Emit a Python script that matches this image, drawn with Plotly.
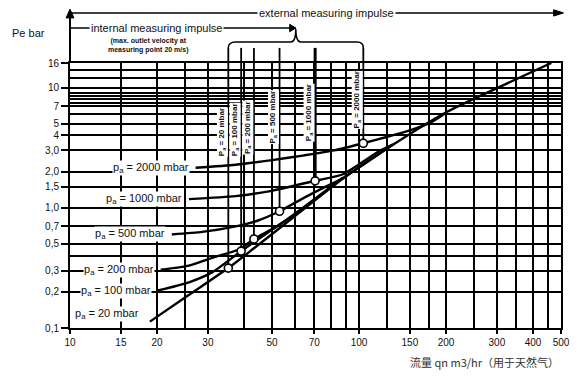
import numpy as np
import plotly.graph_objects as go

# ---------------- data ----------------
q_pa20 = [18.9, 25.6, 35.3, 43.3, 61.4, 88, 131, 201, 295, 463]
p_pa20 = [0.113, 0.186, 0.315, 0.46, 0.89, 1.75, 3.34, 6.26, 9.7, 16]

q_pa100 = [20.1, 25.8, 31.0, 39.1, 48.7, 61.4, 88]
p_pa100 = [0.205, 0.24, 0.29, 0.436, 0.63, 0.92, 1.77]

q_pa200 = [20.6, 25.8, 31.8, 38.4, 43.3, 52, 61.4, 88]
p_pa200 = [0.305, 0.33, 0.39, 0.45, 0.55, 0.70, 0.93, 1.78]

q_pa500 = [22.5, 28.7, 37.4, 44.5, 53.1, 64.9, 76.7, 88, 131]
p_pa500 = [0.60, 0.63, 0.70, 0.78, 0.935, 1.22, 1.5, 1.77, 3.36]

q_pa1000 = [25.8, 37.4, 48.7, 70.5, 88, 119, 131]
p_pa1000 = [1.18, 1.25, 1.37, 1.675, 1.9, 3.02, 3.36]

q_pa2000 = [27.2, 37.4, 50, 64.8, 82, 103.5, 124.6, 150, 178, 201]
p_pa2000 = [2.15, 2.28, 2.49, 2.73, 3.0, 3.44, 3.88, 4.40, 5.16, 6.2]

pa_names = ["20", "100", "200", "500", "1000", "2000"]
pa_point_q = [35.3, 39.1, 43.3, 53.1, 70.5, 103.5]
pa_point_p = [0.315, 0.436, 0.55, 0.935, 1.675, 3.44]

x_tick_vals = [10, 15, 20, 30, 50, 70, 100, 150, 200, 300, 400, 500]
x_tick_text = ["10", "15", "20", "30", "50", "70", "100", "150", "200", "300", "400", "500"]
x_grid_minor = [25, 40, 60, 80, 90, 125, 175, 250, 350, 450]

y_tick_vals = [0.1, 0.2, 0.3, 0.5, 0.7, 1.0, 1.5, 2.0, 3.0, 4, 5, 7, 10, 16]
y_tick_text = ["0,1", "0,2", "0,3", "0,5", "0,7", "1,0", "1,5", "2,0", "3,0", "4", "5", "7", "10", "16"]
y_grid_minor = [0.4, 6, 7.5, 8, 8.5, 9, 12, 14]

Y_TOP = 16

# ---------------- figure ----------------
FONT = "Liberation Sans, Arial, sans-serif"
fig = go.Figure()

curves = [
    (q_pa20, p_pa20, "20"),
    (q_pa100, p_pa100, "100"),
    (q_pa200, p_pa200, "200"),
    (q_pa500, p_pa500, "500"),
    (q_pa1000, p_pa1000, "1000"),
    (q_pa2000, p_pa2000, "2000"),
]
for qs, ps, name in curves:
    fig.add_trace(go.Scatter(x=qs, y=ps, mode="lines", name=name,
                             line=dict(color="black", width=2.4, shape="spline", smoothing=0.6),
                             hoverinfo="skip", showlegend=False))

# vertical lines from each marked point up to the top of the grid
for q, p, name in zip(pa_point_q, pa_point_p, pa_names):
    w = 3 if name == "1000" else 1.8
    fig.add_trace(go.Scatter(x=[q, q], y=[p, Y_TOP], mode="lines",
                             line=dict(color="black", width=w),
                             hoverinfo="skip", showlegend=False))
    fig.add_shape(type="line", xref="x", yref="paper", x0=q, x1=q, y0=1.0, y1=1.057,
                  line=dict(color="black", width=w))

fig.add_trace(go.Scatter(x=pa_point_q, y=pa_point_p, mode="markers",
                         marker=dict(symbol="circle", size=8, color="white",
                                     line=dict(color="black", width=1.6)),
                         hoverinfo="skip", showlegend=False))

# labels at the left end of each curve
for qs, ps, name in curves:
    fig.add_annotation(x=np.log10(qs[0]), y=np.log10(ps[0]), xref="x", yref="y",
                       text=f"p<sub>a</sub> = {name} mbar", showarrow=False,
                       xanchor="right", yanchor="middle", xshift=-6 if name != "20" else -10,
                       yshift=8 if name == "20" else 0,
                       font=dict(family=FONT, size=11, color="#111"),
                       bgcolor="white", borderpad=0)

# rotated labels beside the vertical lines
label_y = {"20": 0.74, "100": 0.747, "200": 0.758, "500": 0.796, "1000": 0.811, "2000": 0.86}
for q, name in zip(pa_point_q, pa_names):
    fig.add_annotation(x=np.log10(q), y=label_y[name], xref="x", yref="paper",
                       text=f"<b>P<sub>a</sub> = {name} mbar</b>", showarrow=False,
                       textangle=-90, xanchor="center", yanchor="middle", xshift=-6,
                       font=dict(family=FONT, size=8, color="#111"),
                       bgcolor="white", borderpad=0)

# brace joining the vertical lines
q_lo, q_hi = pa_point_q[0], pa_point_q[-1]
q_mid = float(np.sqrt(q_lo * q_hi))
brace = (f"M {q_lo},1.057 Q {q_lo},1.079 {q_lo*1.06},1.079 "
         f"L {q_mid/1.04},1.079 Q {q_mid},1.079 {q_mid},1.128 "
         f"Q {q_mid},1.079 {q_mid*1.04},1.079 "
         f"L {q_hi/1.05},1.079 Q {q_hi},1.079 {q_hi},1.057")
fig.add_shape(type="path", xref="x", yref="paper", path=brace,
              line=dict(color="black", width=1.5))

# internal measuring impulse arrow
fig.add_shape(type="line", xref="x", yref="paper", x0=10, x1=q_mid, y0=1.132, y1=1.132,
              line=dict(color="black", width=1.5))
fig.add_shape(type="path", xref="x", yref="paper",
              path=f"M {q_mid/1.05},1.146 L {q_mid},1.132 L {q_mid/1.05},1.118 Z",
              fillcolor="black", line=dict(color="black", width=1))

# external measuring impulse arrow
fig.add_shape(type="line", xref="paper", yref="paper", x0=0, x1=1.0, y0=1.189, y1=1.189,
              line=dict(color="black", width=1.5))
fig.add_shape(type="path", xref="paper", yref="paper",
              path="M 0.985,1.201 L 1.005,1.189 L 0.985,1.177 Z",
              fillcolor="black", line=dict(color="black", width=1))

# left axis extension with arrow
fig.add_shape(type="line", xref="paper", yref="paper", x0=0, x1=0, y0=1.0, y1=1.19,
              line=dict(color="black", width=2))
fig.add_shape(type="path", xref="paper", yref="paper",
              path="M -0.008,1.17 L 0,1.203 L 0.008,1.17 Z",
              fillcolor="black", line=dict(color="black", width=1))

fig.add_annotation(x=0.522, y=1.189, xref="paper", yref="paper", xanchor="center", yanchor="middle",
                   text="external measuring impulse", showarrow=False,
                   font=dict(family=FONT, size=11, color="#111"), bgcolor="white", borderpad=1)
fig.add_annotation(x=0.176, y=1.132, xref="paper", yref="paper", xanchor="center", yanchor="middle",
                   text="internal measuring impulse", showarrow=False,
                   font=dict(family=FONT, size=11, color="#111"), bgcolor="white", borderpad=1)
fig.add_annotation(x=0.16, y=1.066, xref="paper", yref="paper", xanchor="center", yanchor="middle",
                   text="<b>(max. outlet velocity at<br>measuring point 20 m/s)</b>", showarrow=False,
                   font=dict(family=FONT, size=7, color="#111"), align="center")
fig.add_annotation(x=-0.122, y=1.113, xref="paper", yref="paper", xanchor="left", yanchor="middle",
                   text="Pe bar", showarrow=False,
                   font=dict(family=FONT, size=11, color="#111"))
fig.add_annotation(x=1.0, y=-0.128, xref="paper", yref="paper", xanchor="right", yanchor="middle",
                   text="流量 qn m3/hr（用于天然气）", showarrow=False,
                   font=dict(family="Noto Sans CJK SC, sans-serif", size=11, color="#333"))

fig.update_xaxes(type="log", range=[1, np.log10(500)],
                 tickmode="array", tickvals=x_tick_vals, ticktext=x_tick_text,
                 ticks="outside", ticklen=4, tickwidth=1.5, tickcolor="black",
                 showgrid=True, gridcolor="black", gridwidth=1.5,
                 minor=dict(tickmode="array", tickvals=x_grid_minor, showgrid=True,
                            gridcolor="black", gridwidth=1.5, ticks=""),
                 showline=True, linecolor="black", linewidth=2, mirror=True,
                 zeroline=False, tickfont=dict(family=FONT, size=10, color="#111"))
fig.update_yaxes(type="log", range=[-1, np.log10(16)],
                 tickmode="array", tickvals=y_tick_vals, ticktext=y_tick_text,
                 ticks="outside", ticklen=7, tickwidth=1.5, tickcolor="black",
                 showgrid=True, gridcolor="black", gridwidth=1.5,
                 minor=dict(tickmode="array", tickvals=y_grid_minor, showgrid=True,
                            gridcolor="black", gridwidth=1.5, ticks=""),
                 showline=True, linecolor="black", linewidth=2, mirror=True,
                 zeroline=False, tickfont=dict(family=FONT, size=10, color="#111"))

# the page places the figure 8 px from the top-left corner
fig.update_layout(width=572, height=370, margin=dict(l=62, r=10, t=55, b=50),
                  plot_bgcolor="white", paper_bgcolor="white", showlegend=False)

fig.write_html("out.html")
